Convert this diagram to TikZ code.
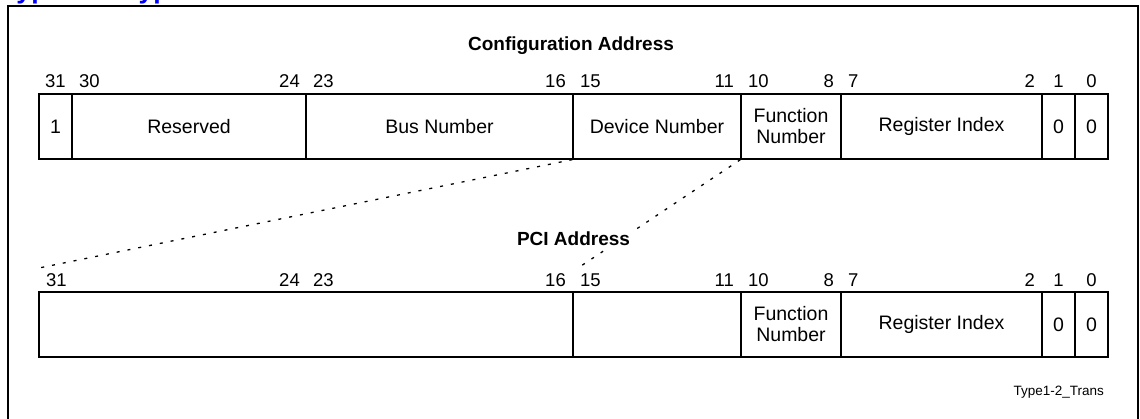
\documentclass[tikz,border=0pt]{standalone}
\usepackage{fontspec}
\setmainfont{Liberation Sans}
\begin{document}
\begin{tikzpicture}[x=1pt,y=-1pt,
  cell/.style={draw=black, line width=1.3pt, inner sep=0pt, minimum height=65pt, align=center, font=\fontsize{19.5}{21}\selectfont},
  bitl/.style={anchor=base west, inner sep=0pt, font=\fontsize{18.5}{21}\selectfont},
  bitr/.style={anchor=base east, inner sep=0pt, font=\fontsize{18.5}{21}\selectfont},
  bitc/.style={anchor=base, inner sep=0pt, font=\fontsize{18.5}{21}\selectfont},
  heading/.style={anchor=base, font=\fontsize{19}{22}\selectfont\bfseries},
  map/.style={line width=1.3pt, dash pattern=on 3pt off 8pt},
  frame/.style={line width=2.2pt}
]
\useasboundingbox (0,0) rectangle (1140,419);
\begin{scope}
\clip (0,0) rectangle (1140,419);
\node[anchor=base west, inner sep=0pt, text=blue, font=\fontsize{26.6}{30}\selectfont\bfseries] (title) at (2,-1.5) {Type 1 to Type 0 Translation};
\end{scope}
% outer frame
\draw[frame] (8,420) -- (8,6) -- (1138,6) -- (1138,420);

% Configuration Address
\node[heading] (cfgtitle) at (571,51) {Configuration Address};
\node[cell, minimum width=33pt]  (t31)  at (55.5,126.5) {1};
\node[cell, minimum width=234pt] (tres) at (189,126.5) {Reserved};
\node[cell, minimum width=267pt] (tbus) at (439.5,126.5) {Bus Number};
\node[cell, minimum width=168pt] (tdev) at (657,126.5) {Device Number};
\node[cell, minimum width=100pt] (tfun) at (791,126.5) {Function\\Number};
\node[cell, minimum width=201pt] (treg) at (941.5,126.5) {Register Index};
\node[cell, minimum width=33pt]  (tb1)  at (1058.5,126.5) {0};
\node[cell, minimum width=33pt]  (tb0)  at (1091.5,126.5) {0};

\node[bitc] (tl31) at (55.5,88) {31};
\node[bitl] (tl30) at (79,88) {30};
\node[bitr] (tl24) at (300,88) {24};
\node[bitl] (tl23) at (313,88) {23};
\node[bitr] (tl16) at (566,88) {16};
\node[bitl] (tl15) at (580,88) {15};
\node[bitr] (tl11) at (734,88) {11};
\node[bitl] (tl10) at (748,88) {10};
\node[bitr] (tl8)  at (834,88) {8};
\node[bitl] (tl7)  at (848,88) {7};
\node[bitr] (tl2)  at (1035,88) {2};
\node[bitc] (tl1)  at (1058.5,88) {1};
\node[bitc] (tl0)  at (1091.5,88) {0};

% PCI Address
\node[cell, minimum width=534pt] (bhi)  at (306,324.5) {};
\node[cell, minimum width=168pt] (bdev) at (657,324.5) {};
\node[cell, minimum width=100pt] (bfun) at (791,324.5) {Function\\Number};
\node[cell, minimum width=201pt] (breg) at (941.5,324.5) {Register Index};
\node[cell, minimum width=33pt]  (bb1)  at (1058.5,324.5) {0};
\node[cell, minimum width=33pt]  (bb0)  at (1091.5,324.5) {0};

\node[bitl] (bl31) at (46,287) {31};
\node[bitr] (bl24) at (300,287) {24};
\node[bitl] (bl23) at (313,287) {23};
\node[bitr] (bl16) at (566,287) {16};
\node[bitl] (bl15) at (580,287) {15};
\node[bitr] (bl11) at (734,287) {11};
\node[bitl] (bl10) at (748,287) {10};
\node[bitr] (bl8)  at (834,287) {8};
\node[bitl] (bl7)  at (848,287) {7};
\node[bitr] (bl2)  at (1035,287) {2};
\node[bitc] (bl1)  at (1058.5,287) {1};
\node[bitc] (bl0)  at (1091.5,287) {0};

% mapping lines
\coordinate (m1) at (39,268);
\coordinate (m2) at (578,268);
\draw[map] (tdev.south west) -- (m1);
\draw[map] (tfun.south west) -- (m2);
\node[heading, fill=white, inner sep=2pt] (pcititle) at (573.5,246) {PCI Address};

\node[anchor=base east, inner sep=0pt, font=\fontsize{13.5}{16}\selectfont] (tag) at (1104,395) {Type1-2\_Trans};
\end{tikzpicture}
\end{document}
